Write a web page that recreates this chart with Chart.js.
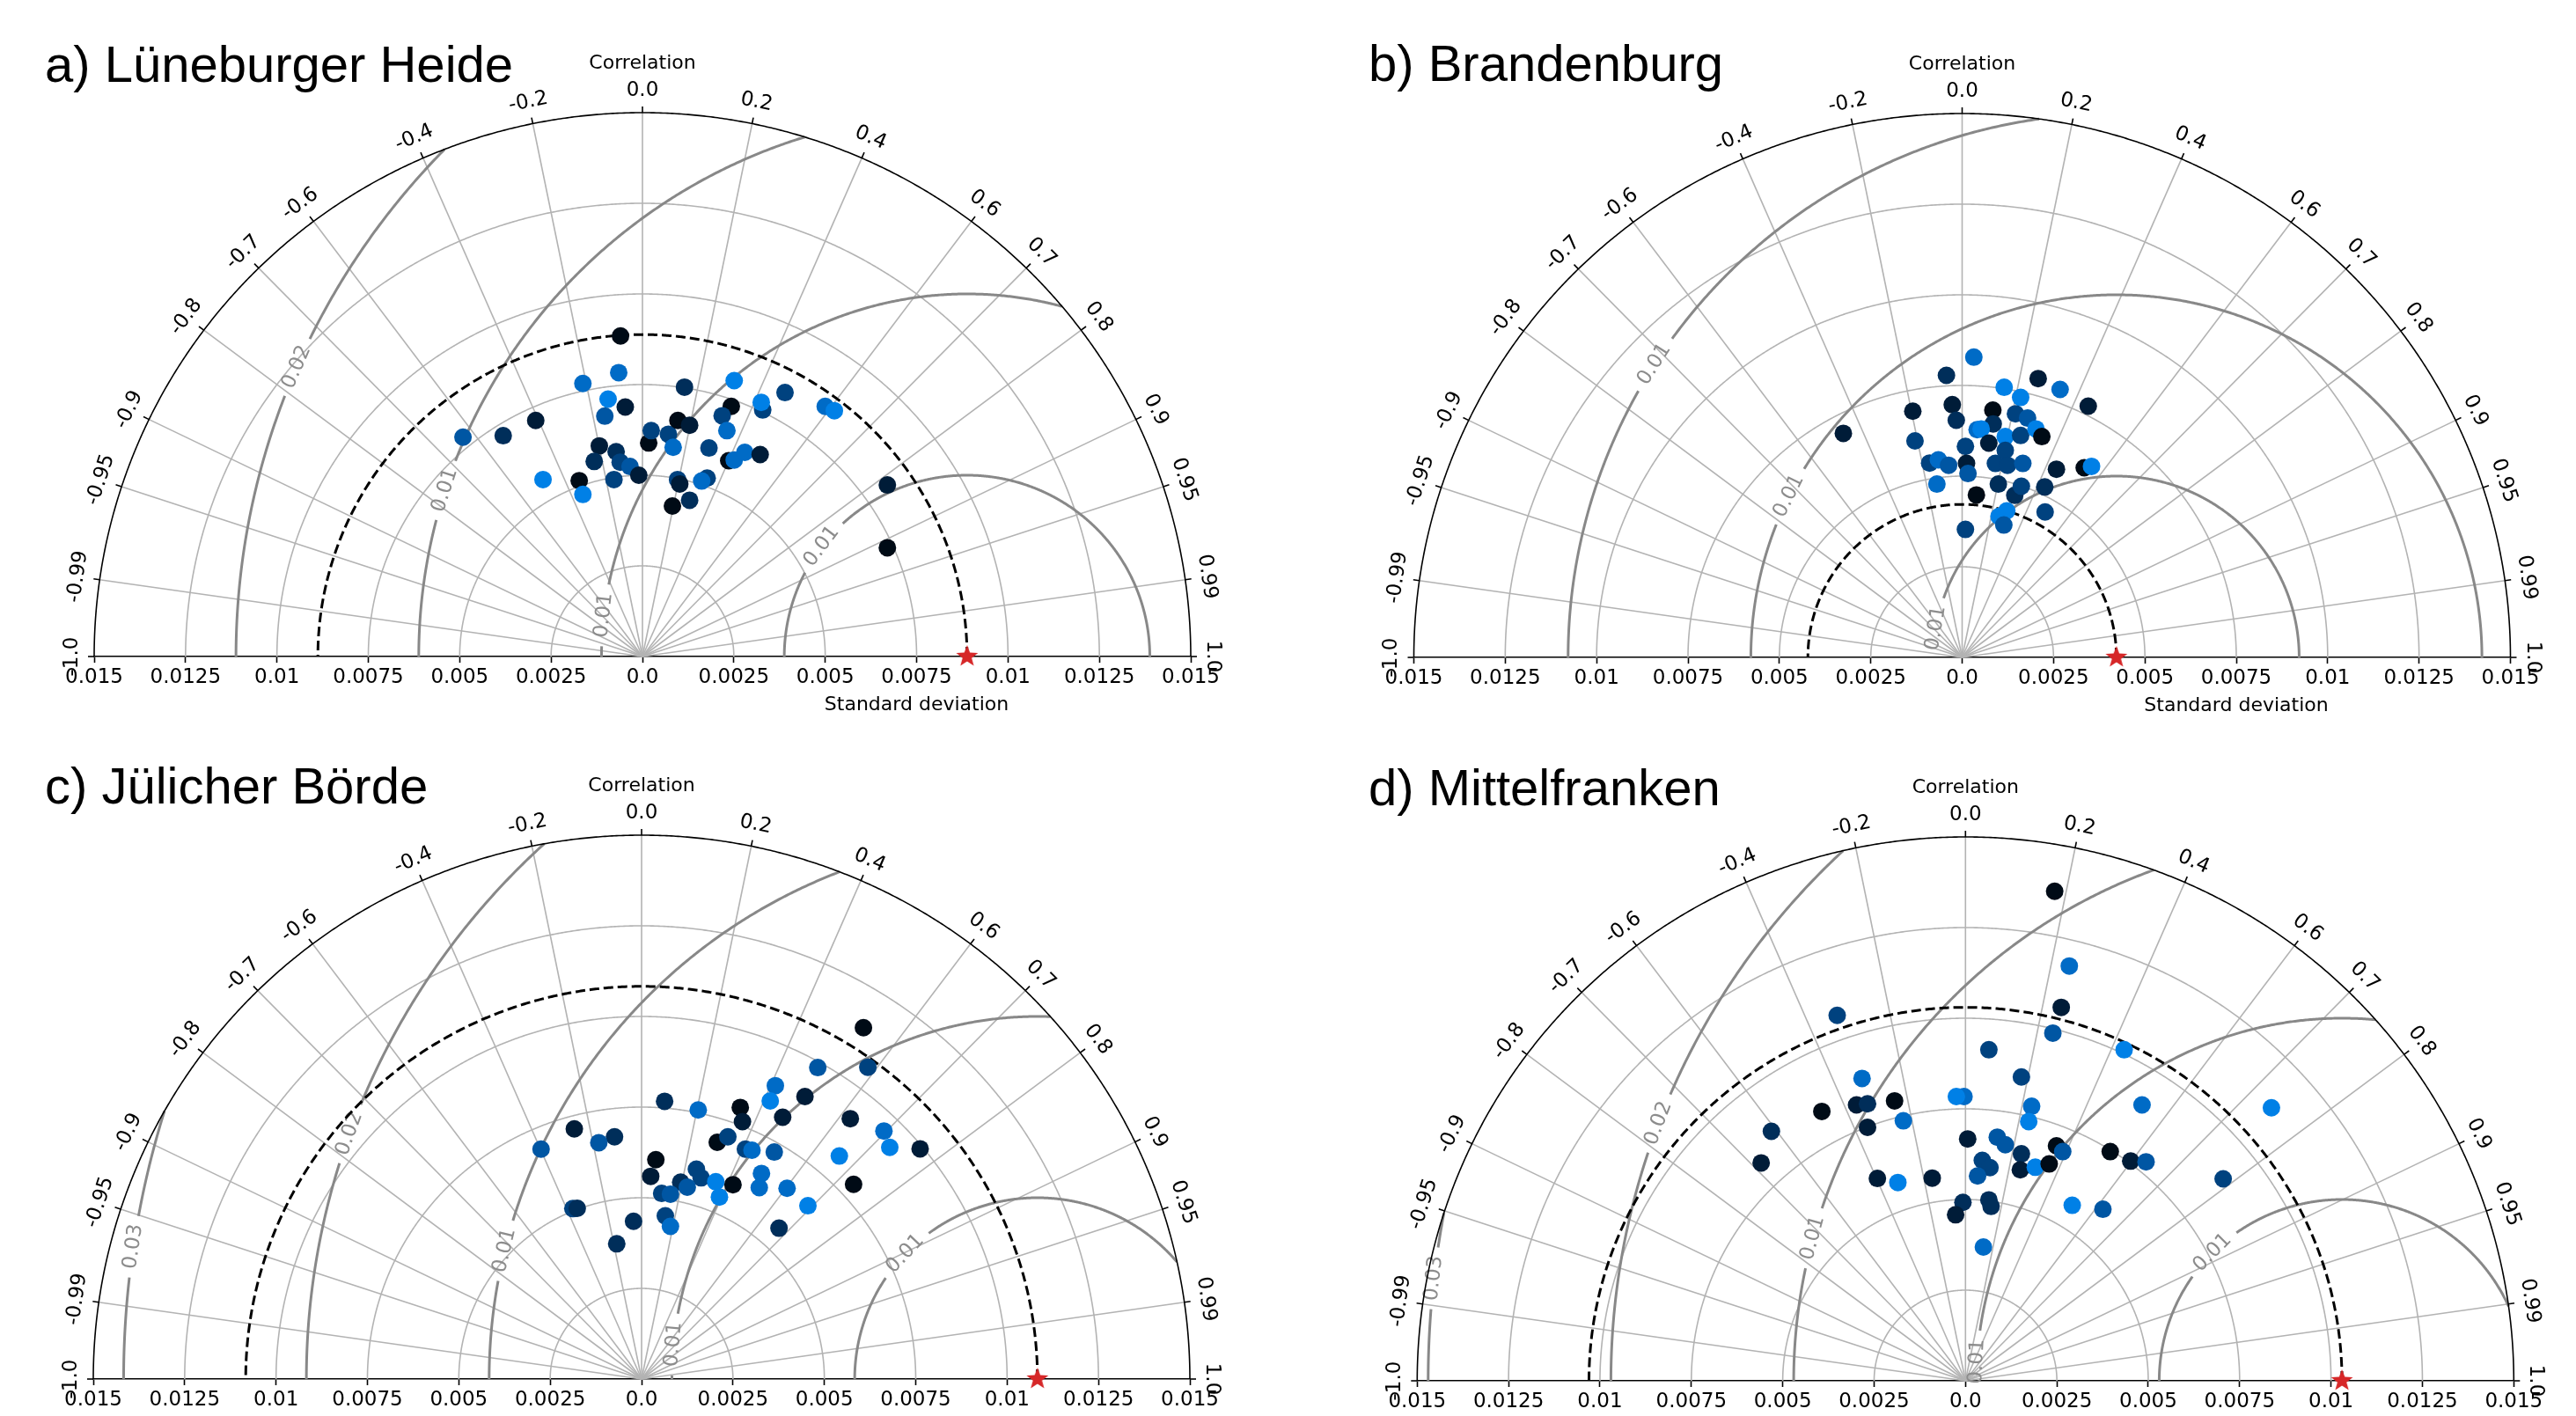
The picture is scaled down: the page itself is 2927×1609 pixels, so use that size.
<!DOCTYPE html>
<html>
<head>
<meta charset="utf-8">
<script src="https://cdn.jsdelivr.net/npm/chart.js@4.4.1/dist/chart.umd.min.js"></script>
<style>
  html, body { margin: 0; padding: 0; background: #fff; }
  #wrap { position: relative; width: 2927px; height: 1609px; overflow: hidden; }
  canvas { position: absolute; }
</style>
</head>
<body>
<div id="wrap">
  <canvas id="chartC" width="1463" height="805" style="left:0;top:805px"></canvas>
  <canvas id="chartD" width="1464" height="805" style="left:1463px;top:805px"></canvas>
  <canvas id="chartA" width="1463" height="830" style="left:0;top:0"></canvas>
  <canvas id="chartB" width="1464" height="830" style="left:1463px;top:0"></canvas>
</div>
<script>
// ---- axes of the diagram ----
const corrTicks = [-1, -0.99, -0.95, -0.9, -0.8, -0.7, -0.6, -0.4, -0.2, 0, 0.2, 0.4, 0.6, 0.7, 0.8, 0.9, 0.95, 0.99, 1];
const corrLabels = ['-1.0', '-0.99', '-0.95', '-0.9', '-0.8', '-0.7', '-0.6', '-0.4', '-0.2', '0.0', '0.2', '0.4', '0.6', '0.7', '0.8', '0.9', '0.95', '0.99', '1.0'];
const stdTicks = [-0.015, -0.0125, -0.01, -0.0075, -0.005, -0.0025, 0, 0.0025, 0.005, 0.0075, 0.01, 0.0125, 0.015];
const stdTickLabels = ['0.015', '0.0125', '0.01', '0.0075', '0.005', '0.0025', '0.0', '0.0025', '0.005', '0.0075', '0.01', '0.0125', '0.015'];
const stdGrid = [0.0025, 0.005, 0.0075, 0.01, 0.0125];
const stdMax = 0.015;
const rmsLevels = [0.005, 0.01, 0.015, 0.02, 0.025];

// ---- a) Lüneburger Heide ----
const refA = 0.00888;
const xA = [-0.00060, -0.00065, -0.00163, -0.00094, -0.00047, -0.00103, -0.00292, -0.00381, -0.00491, -0.00118,
            -0.00132, -0.00072, -0.00061, -0.00034, -0.00010, -0.00078, -0.00173, -0.00272, -0.00163, 0.00017,
            0.00024, 0.00071, 0.00084, 0.00097, 0.00129, 0.00115, 0.00096, 0.00102, 0.00082, 0.00129,
            0.00177, 0.00162, 0.00182, 0.00243, 0.00218, 0.00231, 0.00251, 0.00329, 0.00325, 0.00390,
            0.00236, 0.00251, 0.00280, 0.00322, 0.00500, 0.00525, 0.00670, 0.00670];
const yA = [0.00884, 0.00783, 0.00753, 0.00710, 0.00688, 0.00663, 0.00651, 0.00609, 0.00605, 0.00581,
            0.00538, 0.00565, 0.00536, 0.00524, 0.00500, 0.00488, 0.00485, 0.00488, 0.00447, 0.00589,
            0.00623, 0.00613, 0.00577, 0.00651, 0.00638, 0.00743, 0.00488, 0.00476, 0.00415, 0.00431,
            0.00492, 0.00484, 0.00575, 0.00690, 0.00664, 0.00623, 0.00761, 0.00680, 0.00701, 0.00728,
            0.00540, 0.00542, 0.00563, 0.00557, 0.00690, 0.00678, 0.00473, 0.00300];
const shadeA = [0, 5, 5, 6, 1, 4, 1, 2, 4, 1, 2, 2, 3, 4, 1, 3, 0, 6, 6, 0, 3, 3, 5, 0, 1, 2, 3, 1, 0, 2,
                3, 5, 3, 0, 3, 5, 6, 3, 6, 3, 0, 5, 5, 1, 5, 6, 1, 0];

// ---- b) Brandenburg ----
const refB = 0.00422;
const xB = [0.00032, -0.00043, 0.00208, 0.00268, 0.00115, 0.00160, 0.00345, -0.00135, -0.00027, -0.00016,
            0.00084, 0.00085, 0.00146, 0.00179, 0.00041, 0.00052, 0.00073, 0.00118, 0.00160, 0.00202,
            0.00218, -0.00325, -0.00129, 0.00009, 0.00118, -0.00089, -0.00065, -0.00037, 0.00012, 0.00016,
            0.00091, 0.00124, 0.00166, 0.00258, 0.00334, 0.00354, -0.00069, 0.00099, 0.00144, 0.00162,
            0.00226, 0.00039, 0.00101, 0.00122, 0.00114, 0.00227, 0.00009];
const yB = [0.00828, 0.00778, 0.00769, 0.00739, 0.00745, 0.00717, 0.00693, 0.00679, 0.00697, 0.00654,
            0.00682, 0.00644, 0.00672, 0.00660, 0.00628, 0.00630, 0.00591, 0.00609, 0.00612, 0.00630,
            0.00609, 0.00618, 0.00597, 0.00582, 0.00571, 0.00536, 0.00545, 0.00530, 0.00535, 0.00507,
            0.00535, 0.00530, 0.00535, 0.00519, 0.00523, 0.00527, 0.00478, 0.00478, 0.00447, 0.00472,
            0.00470, 0.00448, 0.00389, 0.00404, 0.00365, 0.00401, 0.00353];
const shadeB = [5, 2, 1, 5, 6, 6, 1, 1, 1, 2, 0, 2, 3, 4, 5, 6, 1, 6, 3, 6, 0, 1, 3, 3, 3, 3, 5, 4, 1, 4,
                3, 3, 4, 1, 0, 6, 5, 2, 2, 3, 2, 0, 6, 6, 4, 3, 3];

// ---- c) Jülicher Börde ----
const refC = 0.01083;
const xC = [0.00607, 0.00482, 0.00619, 0.00366, 0.00352, 0.00447, 0.00063, 0.00155, 0.00270, 0.00276,
            0.00386, 0.00571, -0.00184, -0.00074, -0.00117, -0.00275, 0.00207, 0.00236, 0.00284, 0.00302,
            0.00363, 0.00663, 0.00679, 0.00762, 0.00541, 0.00039, 0.00025, 0.00150, 0.00163, 0.00107,
            0.00125, 0.00203, 0.00250, 0.00328, 0.00322, 0.00398, 0.00580, 0.00055, 0.00079, 0.00213,
            0.00455, -0.00188, -0.00176, -0.00022, 0.00065, 0.00079, -0.00068, 0.00376];
const yC = [0.00969, 0.00859, 0.00860, 0.00809, 0.00767, 0.00779, 0.00766, 0.00742, 0.00749, 0.00710,
            0.00722, 0.00718, 0.00690, 0.00668, 0.00652, 0.00634, 0.00653, 0.00668, 0.00634, 0.00631,
            0.00626, 0.00684, 0.00639, 0.00635, 0.00615, 0.00605, 0.00559, 0.00579, 0.00555, 0.00543,
            0.00529, 0.00544, 0.00536, 0.00567, 0.00528, 0.00526, 0.00537, 0.00512, 0.00510, 0.00502,
            0.00478, 0.00470, 0.00471, 0.00435, 0.00450, 0.00421, 0.00373, 0.00416];
const shadeC = [0, 4, 3, 5, 6, 1, 2, 5, 0, 1, 1, 1, 1, 2, 4, 4, 0, 3, 3, 5, 4, 5, 6, 1, 6, 0, 1, 3, 3, 2,
                4, 6, 0, 5, 5, 5, 0, 3, 4, 6, 6, 3, 2, 2, 3, 5, 2, 2];

// ---- d) Mittelfranken ----
const refD = 0.0103;
const xD = [0.00244, 0.00284, 0.00262, 0.00239, -0.00351, 0.00064, 0.00434, 0.00153, -0.00283, -0.00004,
            -0.00025, 0.00181, 0.00173, 0.00483, 0.00837, -0.00393, -0.00298, -0.00268, -0.00194, -0.00170,
            -0.00268, -0.00531, -0.00559, 0.00006, 0.00087, 0.00109, 0.00153, 0.00249, 0.00266, 0.00396,
            0.00452, 0.00494, 0.00046, 0.00067, 0.00033, 0.00150, 0.00191, 0.00229, -0.00241, -0.00185,
            -0.00091, 0.00705, -0.00007, 0.00064, 0.00070, -0.00027, 0.00292, 0.00376, 0.00049];
const yD = [0.01350, 0.01144, 0.01030, 0.00959, 0.01008, 0.00913, 0.00913, 0.00838, 0.00834, 0.00784,
            0.00784, 0.00757, 0.00715, 0.00761, 0.00753, 0.00743, 0.00761, 0.00764, 0.00772, 0.00717,
            0.00699, 0.00688, 0.00601, 0.00667, 0.00672, 0.00651, 0.00626, 0.00648, 0.00632, 0.00632,
            0.00606, 0.00604, 0.00608, 0.00588, 0.00565, 0.00582, 0.00589, 0.00598, 0.00558, 0.00547,
            0.00559, 0.00557, 0.00492, 0.00499, 0.00481, 0.00458, 0.00484, 0.00473, 0.00369];
const shadeD = [0, 5, 1, 4, 3, 3, 6, 3, 5, 5, 6, 5, 6, 5, 6, 0, 1, 2, 0, 5, 1, 2, 1, 1, 4, 4, 2, 0, 4, 0,
                1, 4, 3, 3, 4, 1, 6, 0, 1, 6, 1, 3, 2, 2, 2, 1, 6, 4, 5];

// point colours, black to light blue
const palette = ['#000b16', '#001c38', '#002e5a', '#00427f', '#0056a3', '#006bc6', '#0080e6'];

Chart.defaults.font.family = '"DejaVu Sans", sans-serif';

// filled red star for the reference point
function makeStar(size, color) {
    const c = document.createElement('canvas');
    c.width = size; c.height = size;
    const g = c.getContext('2d');
    const R = size / 2, r = R * 0.42;
    g.beginPath();
    for (let i = 0; i < 10; i++) {
        const a = -Math.PI / 2 + i * Math.PI / 5;
        const rr = i % 2 ? r : R;
        g.lineTo(R + rr * Math.cos(a), R + rr * Math.sin(a));
    }
    g.closePath();
    g.fillStyle = color;
    g.fill();
    return c;
}
const starImg = makeStar(26, '#d62728');

function arcPath(ctx, X, Y, cx, r, a0, a1) {
    const n = Math.max(6, Math.ceil((a1 - a0) * 240));
    ctx.beginPath();
    for (let i = 0; i <= n; i++) {
        const a = a0 + (a1 - a0) * i / n;
        const px = X(cx + r * Math.cos(a)), py = Y(r * Math.sin(a));
        if (i === 0) ctx.moveTo(px, py); else ctx.lineTo(px, py);
    }
    ctx.stroke();
}

const taylorPlugin = {
    id: 'taylor',
    beforeDatasetsDraw(chart, args, opts) {
        const ctx = chart.ctx;
        const X = v => chart.scales.x.getPixelForValue(v);
        const Y = v => chart.scales.y.getPixelForValue(v);
        const pxUnit = (X(stdMax) - X(0)) / stdMax;
        ctx.save();

        // std dev arcs
        ctx.strokeStyle = '#b3b3b3';
        ctx.lineWidth = 1.6;
        stdGrid.forEach(r => arcPath(ctx, X, Y, 0, r, 0, Math.PI));

        // correlation rays
        corrTicks.forEach(c => {
            if (Math.abs(c) === 1) return;
            const a = Math.acos(c);
            ctx.beginPath();
            ctx.moveTo(X(0), Y(0));
            ctx.lineTo(X(stdMax * Math.cos(a)), Y(stdMax * Math.sin(a)));
            ctx.stroke();
        });

        // RMS difference contours
        ctx.font = '23px "DejaVu Sans"';
        const ref = opts.ref;
        rmsLevels.forEach(L => {
            const cb = (stdMax * stdMax - ref * ref - L * L) / (2 * ref * L);
            if (cb < -1) return;
            const aStart = cb >= 1 ? 0 : Math.acos(cb);
            const lab = opts.contourLabels.find(l => l[0] === L);
            ctx.strokeStyle = '#888888';
            ctx.lineWidth = 3;
            if (lab) {
                const phi = Math.atan2(lab[2], lab[1] - ref);
                const txt = L.toFixed(2);
                const gap = (ctx.measureText(txt).width / 2 + 10) / (L * pxUnit);
                if (phi - gap > aStart) arcPath(ctx, X, Y, ref, L, aStart, phi - gap);
                if (phi + gap < Math.PI) arcPath(ctx, X, Y, ref, L, Math.max(aStart, phi + gap), Math.PI);
                const px = X(ref + L * Math.cos(phi)), py = Y(L * Math.sin(phi));
                let rot = Math.atan2(py - Y(0), px - X(ref)) + Math.PI / 2;
                while (rot > Math.PI / 2) rot -= Math.PI;
                while (rot <= -Math.PI / 2) rot += Math.PI;
                ctx.save();
                ctx.translate(px, py);
                ctx.rotate(rot);
                ctx.fillStyle = '#8c8c8c';
                ctx.textAlign = 'center';
                ctx.textBaseline = 'middle';
                ctx.fillText(txt, 0, 0);
                ctx.restore();
            } else {
                arcPath(ctx, X, Y, ref, L, aStart, Math.PI);
            }
        });

        // reference std dev (dashed)
        ctx.strokeStyle = '#000';
        ctx.lineWidth = 3;
        ctx.setLineDash([11, 5]);
        arcPath(ctx, X, Y, 0, ref, 0, Math.PI);
        ctx.setLineDash([]);

        // outer arc with correlation ticks and labels
        ctx.lineWidth = 1.6;
        arcPath(ctx, X, Y, 0, stdMax, 0, Math.PI);
        ctx.fillStyle = '#000';
        ctx.textAlign = 'center';
        ctx.textBaseline = 'middle';
        corrTicks.forEach((c, i) => {
            const a = Math.acos(c);
            const ex = X(stdMax * Math.cos(a)), ey = Y(stdMax * Math.sin(a));
            const nx = Math.cos(a), ny = -Math.sin(a);
            ctx.beginPath();
            ctx.moveTo(ex, ey);
            ctx.lineTo(ex + 7 * nx, ey + 7 * ny);
            ctx.stroke();
            ctx.save();
            ctx.translate(ex + 25 * nx, ey + 25 * ny);
            ctx.rotate(Math.PI / 2 - a);
            ctx.fillText(corrLabels[i], 0, 0);
            ctx.restore();
        });
        ctx.font = '22px "DejaVu Sans"';
        ctx.fillText('Correlation', X(0), Y(stdMax) - 56);
        ctx.fillText('Standard deviation', X(0.0075), Y(0) + 55);

        // panel title
        ctx.font = '58px "Liberation Sans", Arial, sans-serif';
        ctx.textAlign = 'left';
        ctx.textBaseline = 'alphabetic';
        ctx.fillText(opts.title, opts.titleX, opts.titleY);
        ctx.restore();
    }
};

function makeChart(id, cfg) {
    return new Chart(document.getElementById(id), {
        type: 'scatter',
        data: {
            datasets: [{
                data: cfg.xs.map((x, i) => ({ x: x, y: cfg.ys[i] })),
                pointBackgroundColor: cfg.shades.map(s => palette[s]),
                pointBorderWidth: 0,
                pointRadius: 10,
                pointHoverRadius: 10
            }, {
                data: [{ x: cfg.ref, y: 0 }],
                pointStyle: starImg,
                clip: false
            }]
        },
        options: {
            responsive: false,
            animation: false,
            events: [],
            layout: { padding: { left: cfg.padL, right: cfg.padR, top: cfg.padT, bottom: 0 } },
            scales: {
                x: {
                    type: 'linear',
                    min: -stdMax,
                    max: stdMax,
                    afterBuildTicks: s => { s.ticks = stdTicks.map(v => ({ value: v })); },
                    afterFit: s => { s.height = cfg.axisH; },
                    ticks: {
                        autoSkip: false,
                        maxRotation: 0,
                        padding: 3,
                        color: '#000',
                        font: { size: 23 },
                        callback: (v, i) => stdTickLabels[i]
                    },
                    grid: { display: true, drawOnChartArea: false, drawTicks: true, tickLength: 7, tickColor: '#000', tickWidth: 1.6 },
                    border: { display: true, color: '#000', width: 1.6 }
                },
                y: { type: 'linear', min: 0, max: stdMax, display: false }
            },
            plugins: {
                legend: { display: false },
                tooltip: { enabled: false },
                taylor: {
                    ref: cfg.ref,
                    contourLabels: cfg.contourLabels,
                    title: cfg.title,
                    titleX: cfg.titleX,
                    titleY: cfg.titleY
                }
            }
        },
        plugins: [taylorPlugin]
    });
}

makeChart('chartA', {
    xs: xA, ys: yA, shades: shadeA, ref: refA,
    title: 'a) Lüneburger Heide', titleX: 51, titleY: 93,
    padL: 107, padR: 110, padT: 128, axisH: 84,
    contourLabels: [[0.005, 0.00491, 0.00303], [0.01, -0.00108, 0.00114], [0.015, -0.00538, 0.00458], [0.02, -0.00941, 0.00796]]
});
makeChart('chartB', {
    xs: xB, ys: yB, shades: shadeB, ref: refB,
    title: 'b) Brandenburg', titleX: 92, titleY: 92,
    padL: 143.5, padR: 74.5, padT: 129, axisH: 83,
    contourLabels: [[0.005, -0.00069, 0.0008], [0.01, -0.00468, 0.00442], [0.015, -0.00835, 0.00804]]
});
makeChart('chartC', {
    xs: xC, ys: yC, shades: shadeC, ref: refC,
    title: 'c) Jülicher Börde', titleX: 51, titleY: 108,
    padL: 106, padR: 111, padT: 144, axisH: 43,
    contourLabels: [[0.005, 0.00725, 0.00342], [0.01, 0.00082, 0.00096], [0.015, -0.00373, 0.00354], [0.02, -0.008, 0.00677], [0.025, -0.0139, 0.00365]]
});
makeChart('chartD', {
    xs: xD, ys: yD, shades: shadeD, ref: refD,
    title: 'd) Mittelfranken', titleX: 92, titleY: 110,
    padL: 147.3, padR: 70.7, padT: 146, axisH: 41,
    contourLabels: [[0.005, 0.00676, 0.00353], [0.01, 0.00036, 0.00053], [0.015, -0.00419, 0.00394], [0.02, -0.00839, 0.0071], [0.025, -0.01448, 0.00282]]
});
</script>
</body>
</html>
